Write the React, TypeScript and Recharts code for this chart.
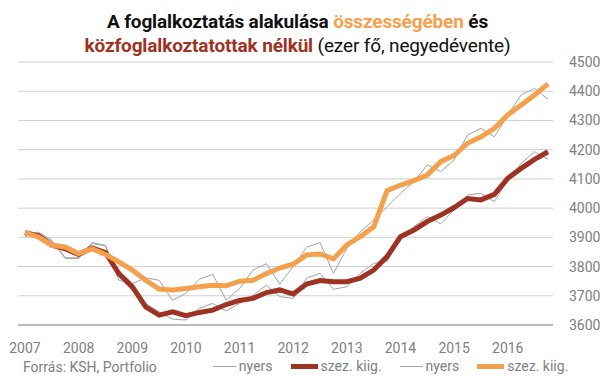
import { LineChart, Line, XAxis, YAxis, CartesianGrid } from 'recharts';

const YEARS = ['2007', '2008', '2009', '2010', '2011', '2012', '2013', '2014', '2015', '2016'];
const QUARTERS = YEARS.flatMap((y) => ['I', 'II', 'III', 'IV'].map((q) => `${y}. ${q}.`));

// ezer fő, negyedévente
const kozfNelkulNyers = [
  3903, 3915, 3887, 3828, 3828, 3879, 3870, 3765, 3718, 3674,
  3645, 3620, 3617, 3657, 3674, 3648, 3674, 3702, 3736, 3697,
  3691, 3760, 3777, 3722, 3731, 3777, 3811, 3817, 3897, 3937,
  3971, 3946, 3994, 4045, 4051, 4022, 4096, 4153, 4193, 4167,
];
const kozfNelkulSzez = [
  3916, 3905, 3873, 3861, 3841, 3864, 3848, 3776, 3731, 3662,
  3634, 3645, 3632, 3643, 3651, 3670, 3684, 3691, 3711, 3720,
  3706, 3740, 3752, 3748, 3748, 3760, 3788, 3834, 3902, 3925,
  3954, 3976, 4002, 4033, 4028, 4047, 4102, 4136, 4167, 4193,
];
const osszesNyers = [
  3905, 3918, 3890, 3830, 3830, 3882, 3873, 3753, 3742, 3761,
  3753, 3685, 3708, 3757, 3773, 3685, 3725, 3788, 3810, 3740,
  3800, 3866, 3882, 3777, 3862, 3919, 3959, 4005, 4051, 4091,
  4148, 4125, 4165, 4250, 4273, 4244, 4319, 4387, 4410, 4372,
];
const osszesSzez = [
  3916, 3901, 3873, 3867, 3844, 3861, 3841, 3816, 3788, 3753,
  3723, 3720, 3725, 3731, 3736, 3734, 3750, 3753, 3776, 3795,
  3808, 3840, 3843, 3826, 3874, 3902, 3936, 4060, 4079, 4094,
  4113, 4159, 4180, 4222, 4244, 4273, 4319, 4353, 4387, 4425,
];

const Y_TICKS = [3600, 3700, 3800, 3900, 4000, 4100, 4200, 4300, 4400, 4500];

const GRAY = '#a3a3a3';
const BROWN = '#9e3223';
const ORANGE = '#f5a04c';
const TEXT_GRAY = '#808080';
const FONT = 'Roboto, "Noto Sans", sans-serif';

const data = QUARTERS.map((q, i) => ({
  q,
  kozfNelkulNyers: kozfNelkulNyers[i],
  kozfNelkulSzez: kozfNelkulSzez[i],
  osszesNyers: osszesNyers[i],
  osszesSzez: osszesSzez[i],
}));

const legendItems = [
  { label: 'nyers', color: GRAY, thick: false },
  { label: 'szez. kiig.', color: BROWN, thick: true },
  { label: 'nyers', color: GRAY, thick: false },
  { label: 'szez. kiig.', color: ORANGE, thick: true },
];

export default function App() {
  return (
    <div style={{ position: 'absolute', left: 0, top: 0, width: 605, height: 378, background: '#fff', fontFamily: FONT }}>
      <div
        style={{
          position: 'absolute',
          top: 10,
          left: 0,
          width: 595,
          textAlign: 'center',
          fontSize: 19,
          lineHeight: '24px',
          letterSpacing: -0.15,
          color: '#111',
        }}
      >
        <div style={{ fontWeight: 700 }}>
          A foglalkoztatás alakulása <span style={{ color: ORANGE }}>összességében</span> és
        </div>
        <div>
          <span style={{ fontWeight: 700, color: BROWN }}>közfoglalkoztatottak nélkül</span> (ezer fő, negyedévente)
        </div>
      </div>

      <LineChart width={605} height={378} data={data} margin={{ top: 62, right: 0, left: 18, bottom: 23 }}>
        <CartesianGrid vertical={false} stroke="#cfcfcf" />
        <XAxis
          dataKey="q"
          interval={3}
          tickFormatter={(v: string) => v.slice(0, 4)}
          height={30}
          padding={{ left: 7, right: 5 }}
          tickLine={false}
          tickSize={0}
          tickMargin={18}
          axisLine={{ stroke: '#8c8c8c' }}
          tick={{ fill: TEXT_GRAY, fontSize: 14, fontFamily: FONT }}
        />
        <YAxis
          orientation="right"
          width={52}
          domain={[3600, 4500]}
          ticks={Y_TICKS}
          tickLine={false}
          tickSize={0}
          tickMargin={16}
          axisLine={false}
          tick={{ fill: TEXT_GRAY, fontSize: 14, fontFamily: FONT }}
        />
        <Line type="linear" dataKey="kozfNelkulNyers" stroke={GRAY} strokeWidth={1} dot={false} isAnimationActive={false} />
        <Line type="linear" dataKey="osszesNyers" stroke={GRAY} strokeWidth={1} dot={false} isAnimationActive={false} />
        <Line type="linear" dataKey="kozfNelkulSzez" stroke={BROWN} strokeWidth={5} dot={false} isAnimationActive={false} />
        <Line type="linear" dataKey="osszesSzez" stroke={ORANGE} strokeWidth={5} dot={false} isAnimationActive={false} />
      </LineChart>

      <div
        style={{
          position: 'absolute',
          top: 357,
          left: 23,
          display: 'flex',
          alignItems: 'center',
          fontSize: 14,
          color: TEXT_GRAY,
          lineHeight: '17px',
          whiteSpace: 'nowrap',
        }}
      >
        <span style={{ marginTop: 2 }}>Forrás: KSH, Portfolio</span>
        {legendItems.map((item, idx) => (
          <span key={idx} style={{ display: 'flex', alignItems: 'center', marginLeft: idx === 0 ? 56 : 18 }}>
            <span
              style={{
                display: 'inline-block',
                width: item.thick ? 27 : 23,
                height: item.thick ? 5 : 1,
                background: item.color,
                marginRight: 3,
              }}
            />
            {item.label}
          </span>
        ))}
      </div>
    </div>
  );
}
